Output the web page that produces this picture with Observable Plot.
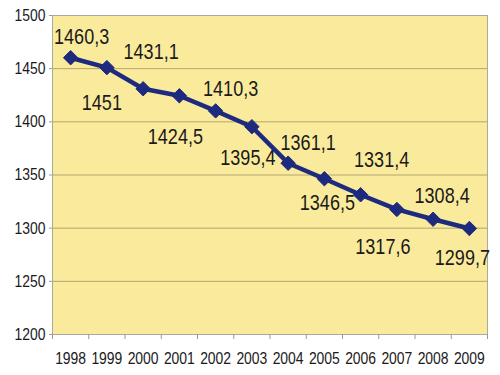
<!DOCTYPE html>
<html>
<head>
<meta charset="utf-8">
<script src="https://cdn.jsdelivr.net/npm/d3@7"></script>
<script src="https://cdn.jsdelivr.net/npm/@observablehq/plot@0.6"></script>
<style>
  html, body { margin: 0; padding: 0; background: #ffffff; }
  #chart { width: 500px; height: 375px; }
</style>
</head>
<body>
<div id="chart"></div>
<script>
// ---- Data ----
const years = [1998, 1999, 2000, 2001, 2002, 2003, 2004, 2005, 2006, 2007, 2008, 2009];
const values = [1460.3, 1451, 1431.1, 1424.5, 1410.3, 1395.4, 1361.1, 1346.5, 1331.4, 1317.6, 1308.4, 1299.7];
const yTicks = [1200, 1250, 1300, 1350, 1400, 1450, 1500];

// ---- Chart ----
const data = years.map((year, i) => ({year, value: values[i], label: String(values[i]).replace(".", ",")}));
// label placement offsets in pixels [dx, dy]
const labelOffsets = [
  [11, -21], [-5, 35], [8, -37], [-4, 41], [15, -22], [-4, 31],
  [20, -20], [3, 24], [21, -35], [-14, 37], [9, -23], [-7, 29]
];
const boundaries = d3.range(years[0] - 0.5, years[years.length - 1] + 1, 1);
const font = "'Liberation Sans', Arial, sans-serif";
const navy = "#1d2a7e";
const narrow = 0.82; // horizontal squeeze to imitate a narrow face

const chart = Plot.plot({
  width: 500,
  height: 375,
  marginLeft: 52,
  marginRight: 13,
  marginTop: 15,
  marginBottom: 41,
  style: {fontFamily: font, fontSize: "17px", color: "#1a1a1a", background: "#ffffff", overflow: "visible"},
  x: {domain: [years[0] - 0.5, years[years.length - 1] + 0.5]},
  y: {domain: [1200, 1500]},
  marks: [
    Plot.frame({fill: "#faeb9c", stroke: null}),
    Plot.gridY(yTicks.slice(1, -1), {stroke: "#b3a470", strokeOpacity: 1, strokeWidth: 1}),
    Plot.frame({stroke: "#a9a9a0", strokeWidth: 1}),
    Plot.axisY({ticks: yTicks, tickSize: 3, tickPadding: 4, stroke: "#999", fontSize: 17, label: null, tickFormat: d => String(d)}),
    Plot.axisX({ticks: boundaries, tickSize: 5, tickFormat: () => "", stroke: "#999", label: null}),
    Plot.axisX({ticks: years, tickSize: 0, tickPadding: 17, tickFormat: d => String(d), fontSize: 17, label: null}),
    Plot.line(data, {x: "year", y: "value", stroke: navy, strokeWidth: 4.5, strokeLinejoin: "round"}),
    Plot.dot(data, {x: "year", y: "value", symbol: "diamond2", r: 6.5, fill: navy, stroke: navy, strokeWidth: 1}),
    ...data.map((d, i) => Plot.text([d], {
      x: "year", y: "value", text: "label",
      dx: labelOffsets[i][0], dy: labelOffsets[i][1],
      fontSize: 22, fill: "#1a1a1a", textAnchor: "middle", lineAnchor: "middle"
    }))
  ]
});

// squeeze every text horizontally about its own anchor point
chart.querySelectorAll("text").forEach(t => {
  const x = parseFloat(t.getAttribute("x") || "0") || 0;
  const tr = t.getAttribute("transform") || "";
  t.setAttribute("transform", `${tr} translate(${x},0) scale(${narrow},1) translate(${-x},0)`.trim());
});

document.getElementById("chart").appendChild(chart);
</script>
</body>
</html>
